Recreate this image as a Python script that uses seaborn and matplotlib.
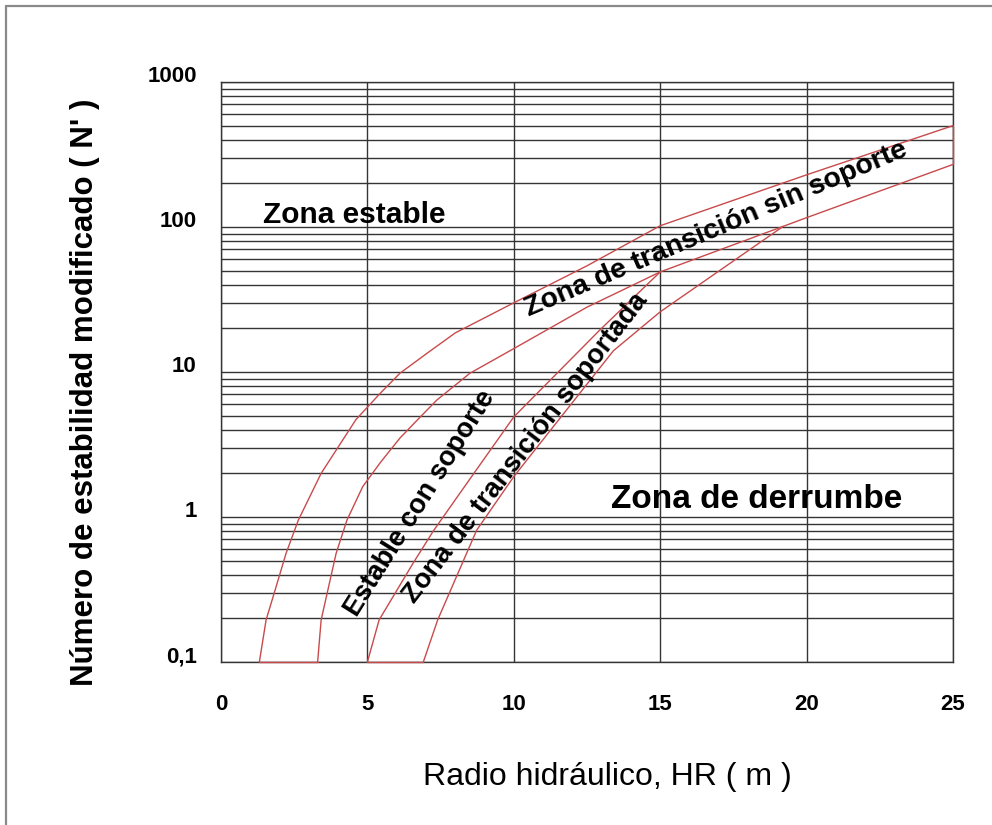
import numpy as np
import pandas as pd
import matplotlib
matplotlib.use("Agg")
import matplotlib.pyplot as plt
from matplotlib import font_manager as fm
from matplotlib.ticker import FixedLocator, LogLocator, NullFormatter
import seaborn as sns

# ---------------- data ----------------
curve_A_x = [1.31, 1.54, 1.82, 2.22, 2.64, 3.42, 4.61, 5.43, 6.11, 7.0, 8.0, 10.0, 12.5, 15.0, 20.0, 25.0]
curve_A_y = [0.1, 0.195, 0.30, 0.56, 0.95, 2.0, 4.7, 7.1, 9.8, 13.3, 18.6, 30, 54, 102, 229, 500]

curve_B_x = [3.30, 3.42, 3.93, 4.30, 4.84, 5.46, 6.11, 6.72, 7.37, 8.5, 10.0, 12.5, 15.0, 19.2, 20.0, 25.0]
curve_B_y = [0.1, 0.195, 0.56, 0.95, 1.62, 2.4, 3.5, 4.7, 6.4, 9.8, 14.5, 28, 49, 101, 116, 270]

curve_C_x = [5.0, 5.4, 6.56, 7.25, 8.39, 10.0, 12.94, 15.0]
curve_C_y = [0.1, 0.195, 0.48, 0.80, 1.7, 4.9, 19.5, 49]

curve_D_x = [6.91, 7.40, 8.73, 10.0, 13.4, 15.0, 19.2]
curve_D_y = [0.1, 0.195, 0.81, 1.9, 14, 26, 101]

x_ticks = [0, 5, 10, 15, 20, 25]
x_tick_labels = ["0", "5", "10", "15", "20", "25"]
y_ticks = [0.1, 1, 10, 100, 1000]
y_tick_labels = ["0,1", "1", "10", "100", "1000"]

zone_labels = ["Zona estable", "Zona de derrumbe", "Zona de transición sin soporte",
               "Estable con soporte", "Zona de transición soportada"]
zone_x = [4.54, 18.3, 16.9, 6.8, 10.4]
zone_y = [121, 1.31, 96, 1.25, 3.0]
zone_rot = [0, 0, 23.0, 58, 52.4]

x_label = "Radio hidráulico, HR ( m )"
y_label = "Número de estabilidad modificado ( N' )"

# ---------------- style ----------------
sns.set_theme(style="white")
names = {f.name for f in fm.fontManager.ttflist}
narrow = "Liberation Sans Narrow" if "Liberation Sans Narrow" in names else "Liberation Sans"
plt.rcParams["font.family"] = [narrow, "DejaVu Sans"]
plt.rcParams["text.color"] = "black"
plt.rcParams["xtick.labelcolor"] = "black"
plt.rcParams["ytick.labelcolor"] = "black"

red = "#c84a4c"
grid_c = "#353535"

fig = plt.figure(figsize=(9.92, 8.25), dpi=100)
ax = fig.add_axes([221 / 992, 1 - 662 / 825, (953 - 221) / 992, (662 - 82) / 825])

# curves
frames = []
for name, xs, ys in [("A", curve_A_x, curve_A_y), ("B", curve_B_x, curve_B_y),
                     ("C", curve_C_x, curve_C_y), ("D", curve_D_x, curve_D_y)]:
    frames.append(pd.DataFrame({"x": xs, "y": ys, "curve": name}))
# closing segments of the bands
frames.append(pd.DataFrame({"x": [curve_A_x[0], curve_B_x[0]],
                            "y": [curve_A_y[0], curve_B_y[0]], "curve": "AB0"}))
frames.append(pd.DataFrame({"x": [curve_C_x[0], curve_D_x[0]],
                            "y": [curve_C_y[0], curve_D_y[0]], "curve": "CD0"}))
frames.append(pd.DataFrame({"x": [curve_A_x[-1], curve_B_x[-1]],
                            "y": [curve_A_y[-1], curve_B_y[-1]], "curve": "AB1"}))
df = pd.concat(frames, ignore_index=True)

sns.lineplot(data=df, x="x", y="y", units="curve", estimator=None, sort=False,
             color=red, lw=1.0, ax=ax, zorder=3)
for ln in ax.lines:
    ln.set_clip_on(False)

ax.set_yscale("log")
ax.set_xlim(0, 25)
ax.set_ylim(0.1, 1000)

ax.xaxis.set_major_locator(FixedLocator(x_ticks))
ax.set_xticklabels(x_tick_labels)
ax.yaxis.set_major_locator(FixedLocator(y_ticks))
ax.set_yticklabels(y_tick_labels)
ax.yaxis.set_minor_locator(LogLocator(base=10, subs=np.arange(2, 10)))
ax.yaxis.set_minor_formatter(NullFormatter())

ax.grid(True, which="major", axis="both", color=grid_c, lw=1.0)
ax.grid(True, which="minor", axis="y", color=grid_c, lw=1.0)
for s in ax.spines.values():
    s.set_visible(True)
    s.set_color(grid_c)
    s.set_linewidth(1.0)
    s.set_zorder(1)

ax.tick_params(axis="x", which="major", direction="out", length=13, width=1.0,
               color=grid_c, pad=10, labelsize=16)
ax.tick_params(axis="y", which="major", direction="out", length=11.5, width=1.0,
               color=grid_c, pad=6, labelsize=16)
ax.tick_params(axis="y", which="minor", length=0)
for lab in ax.get_xticklabels() + ax.get_yticklabels():
    lab.set_fontweight("bold")
for lab in ax.get_yticklabels():
    lab.set_va("baseline")

ax.set_xlabel("")
ax.set_ylabel("")
fig.text(607 / 992, 1 - 777 / 825, x_label, ha="center", va="center", fontsize=23)
fig.text(85 / 992, 1 - 392 / 825, y_label, ha="center", va="center", rotation=90,
         fontsize=22.5, fontweight="bold")

zone_size = [21.5, 24, 20.4, 19.6, 19.7]
for t, x, y, r, fs in zip(zone_labels, zone_x, zone_y, zone_rot, zone_size):
    ax.text(x, y, t, ha="center", va="center", rotation=r, rotation_mode="anchor",
            fontsize=fs, fontweight="bold", color="black", zorder=4)

# outer frame (top and left edges)
fig.add_artist(plt.Line2D([6 / 992, 6 / 992], [0, 1 - 6 / 825], color="#8a8a8a", lw=1.6))
fig.add_artist(plt.Line2D([6 / 992, 1], [1 - 6 / 825, 1 - 6 / 825], color="#8a8a8a", lw=1.6))

fig.savefig("out.png", dpi=100, facecolor="white")
